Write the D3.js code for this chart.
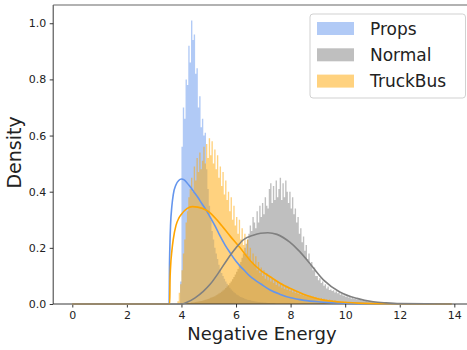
<!DOCTYPE html>
<html>
<head>
<meta charset="utf-8">
<script src="https://cdn.jsdelivr.net/npm/d3@7"></script>
<style>
  body { margin: 0; background: #fff; }
  text { font-family: "DejaVu Sans", sans-serif; }
</style>
</head>
<body>
<script>
// histogram bins: start value, bin width, density per bin
const binWidth = 0.05;

const propsStart = 3.95;
const propsDensity = [
  0.08, 0.56, 0.70, 0.66, 0.80, 0.78, 0.92, 0.86, 1.01, 0.94,
  0.96, 0.82, 0.84, 0.70, 0.74, 0.63, 0.66, 0.60, 0.61, 0.48,
  0.41, 0.35, 0.30, 0.26, 0.23, 0.20, 0.18, 0.16, 0.14, 0.125,
  0.11, 0.10, 0.09, 0.08, 0.072, 0.065, 0.058, 0.052, 0.047, 0.042,
  0.038, 0.034, 0.031, 0.028, 0.025, 0.023, 0.021, 0.019, 0.017, 0.015,
  0.014, 0.013, 0.012, 0.011, 0.010, 0.009, 0.008, 0.0075, 0.007, 0.0065,
  0.006, 0.0055, 0.005, 0.0045, 0.004, 0.0035, 0.003, 0.003, 0.0025, 0.002,
];

const normalStart = 3.95;
const normalDensity = [
  0.001, 0.001, 0.002, 0.002, 0.003, 0.003, 0.004, 0.004, 0.005, 0.005,
  0.006, 0.007, 0.008, 0.009, 0.010, 0.011, 0.012, 0.013, 0.015, 0.016,
  0.018, 0.020, 0.022, 0.024, 0.026, 0.028, 0.031, 0.034, 0.037, 0.040,
  0.044, 0.048, 0.052, 0.057, 0.062, 0.068, 0.074, 0.080, 0.088, 0.096,
  0.105, 0.115, 0.125, 0.140, 0.150, 0.165, 0.180, 0.200, 0.215, 0.230,
  0.250, 0.280, 0.260, 0.310, 0.290, 0.270, 0.330, 0.290, 0.350, 0.310,
  0.360, 0.320, 0.380, 0.350, 0.340, 0.410, 0.430, 0.360, 0.420, 0.370,
  0.440, 0.380, 0.410, 0.450, 0.370, 0.430, 0.380, 0.440, 0.400, 0.360,
  0.400, 0.340, 0.380, 0.320, 0.340, 0.290, 0.310, 0.250, 0.270, 0.220,
  0.240, 0.190, 0.210, 0.160, 0.180, 0.140, 0.150, 0.120, 0.130, 0.100,
  0.100, 0.085, 0.092, 0.075, 0.080, 0.065, 0.070, 0.055, 0.062, 0.050,
  0.052, 0.046, 0.049, 0.041, 0.045, 0.038, 0.040, 0.033, 0.036, 0.030,
  0.030, 0.026, 0.028, 0.023, 0.025, 0.020, 0.022, 0.018, 0.019, 0.016,
  0.016, 0.014, 0.015, 0.012, 0.013, 0.010, 0.011, 0.009, 0.010, 0.008,
  0.008, 0.008, 0.007, 0.007, 0.006, 0.006, 0.005, 0.005, 0.005, 0.004,
  0.004, 0.004, 0.003, 0.003, 0.003, 0.003, 0.002, 0.002, 0.002, 0.002,
];

const truckStart = 3.85;
const truckDensity = [
  0.01, 0.04, 0.07, 0.12, 0.18, 0.23, 0.29, 0.33, 0.38, 0.41,
  0.45, 0.40, 0.49, 0.44, 0.52, 0.47, 0.54, 0.48, 0.51, 0.56,
  0.50, 0.57, 0.52, 0.59, 0.53, 0.58, 0.50, 0.55, 0.48, 0.53,
  0.45, 0.49, 0.42, 0.47, 0.39, 0.44, 0.37, 0.40, 0.33, 0.38,
  0.30, 0.35, 0.28, 0.31, 0.25, 0.30, 0.23, 0.27, 0.21, 0.25,
  0.18, 0.23, 0.17, 0.20, 0.15, 0.18, 0.14, 0.17, 0.12, 0.15,
  0.11, 0.13, 0.10, 0.12, 0.09, 0.11, 0.085, 0.10, 0.08, 0.09,
  0.075, 0.085, 0.068, 0.079, 0.062, 0.073, 0.058, 0.067, 0.053, 0.061,
  0.050, 0.057, 0.046, 0.052, 0.042, 0.048, 0.039, 0.044, 0.036, 0.041,
  0.033, 0.038, 0.030, 0.034, 0.028, 0.032, 0.026, 0.029, 0.024, 0.027,
  0.022, 0.025, 0.020, 0.022, 0.018, 0.021, 0.017, 0.019, 0.015, 0.017,
  0.014, 0.016, 0.013, 0.014, 0.011, 0.013, 0.010, 0.011, 0.009, 0.010,
  0.008, 0.009, 0.007, 0.008, 0.006, 0.007, 0.005, 0.006, 0.004, 0.004,
];

// fitted density curves
const propsCurveX = [0, 3.54, 3.55, 3.56, 3.58, 3.6, 3.65, 3.7, 3.8, 3.9, 4.0, 4.1, 4.2, 4.3, 4.45, 4.6, 4.75, 4.9, 5.05, 5.25, 5.4, 5.6, 5.8, 6.0, 6.15, 6.3, 6.5, 6.7, 6.9, 7.25, 7.6, 8.0, 8.5, 9.0, 9.5, 10, 11, 12, 13.9];
const propsCurveY = [0, 0, 0, 0.12, 0.22, 0.28, 0.35, 0.39, 0.425, 0.44, 0.445, 0.442, 0.432, 0.42, 0.40, 0.38, 0.357, 0.335, 0.31, 0.275, 0.245, 0.21, 0.18, 0.152, 0.135, 0.12, 0.1, 0.085, 0.072, 0.05, 0.035, 0.022, 0.013, 0.008, 0.005, 0.003, 0.001, 0.0003, 0];

const truckCurveX = [0, 3.56, 3.57, 3.58, 3.6, 3.65, 3.7, 3.8, 3.9, 4.0, 4.2, 4.4, 4.6, 4.9, 5.05, 5.4, 5.8, 6.15, 6.5, 6.9, 7.25, 7.6, 8.0, 8.6, 9.1, 9.8, 10.5, 11.5, 13.9];
const truckCurveY = [0, 0, 0, 0.08, 0.13, 0.19, 0.23, 0.28, 0.305, 0.32, 0.34, 0.347, 0.345, 0.335, 0.325, 0.288, 0.24, 0.20, 0.157, 0.12, 0.097, 0.075, 0.055, 0.03, 0.016, 0.007, 0.003, 0.001, 0];

const normalCurveX = [0, 4.0, 4.2, 4.5, 4.8, 5.05, 5.35, 5.67, 6.0, 6.26, 6.63, 6.9, 7.17, 7.5, 7.97, 8.3, 8.6, 9.2, 9.8, 10.43, 11.03, 11.5, 12.0, 13.9];
const normalCurveY = [0, 0, 0.006, 0.022, 0.045, 0.07, 0.11, 0.157, 0.2, 0.228, 0.245, 0.252, 0.254, 0.248, 0.22, 0.19, 0.157, 0.086, 0.043, 0.02, 0.008, 0.004, 0.0015, 0];

const labels = ["Props", "Normal", "TruckBus"];
const colors = ["#6495ed", "#808080", "#ffa500"];
const xTicks = [0, 2, 4, 6, 8, 10, 12, 14];
const yTicks = [0.0, 0.2, 0.4, 0.6, 0.8, 1.0];

const width = 467;
const height = 350;
const plot = { left: 53.2, top: 5, right: 470.7, bottom: 304 };

const svg = d3
  .select("body")
  .append("svg")
  .attr("width", width)
  .attr("height", height);

const xScale = d3.scaleLinear().domain([-0.7, 14.6]).range([plot.left, plot.right]);
const yScale = d3.scaleLinear().domain([0, 1.065]).range([plot.bottom, plot.top]);

// turn bins into step points so each histogram is one filled shape
const toSteps = (start, values) => {
  const pts = values.map((v, i) => ({ x: start + i * binWidth, y: v }));
  pts.push({ x: start + values.length * binWidth, y: 0 });
  return pts;
};

const area = d3
  .area()
  .x((d) => xScale(d.x))
  .y0(yScale(0))
  .y1((d) => yScale(d.y))
  .curve(d3.curveStepAfter);

const hists = [
  toSteps(propsStart, propsDensity),
  toSteps(normalStart, normalDensity),
  toSteps(truckStart, truckDensity),
];

hists.forEach((pts, i) => {
  svg
    .append("path")
    .datum(pts)
    .attr("fill", colors[i])
    .attr("fill-opacity", 0.5)
    .attr("d", area);
});

// spines (left + top, right one is outside the window)
svg
  .append("line")
  .attr("x1", plot.left).attr("x2", plot.left)
  .attr("y1", plot.top).attr("y2", plot.bottom)
  .attr("stroke", "#222").attr("stroke-width", 0.9);
svg
  .append("line")
  .attr("x1", plot.left).attr("x2", width)
  .attr("y1", plot.top).attr("y2", plot.top)
  .attr("stroke", "#666").attr("stroke-width", 1.2);
svg
  .append("line")
  .attr("x1", plot.left).attr("x2", width)
  .attr("y1", plot.bottom).attr("y2", plot.bottom)
  .attr("stroke", "#222").attr("stroke-width", 0.9);

// axes
const xAxis = svg
  .append("g")
  .attr("transform", `translate(0,${plot.bottom})`)
  .call(d3.axisBottom(xScale).tickValues(xTicks).tickSize(3.5).tickPadding(3.5).tickFormat(d3.format("d")));
const yAxis = svg
  .append("g")
  .attr("transform", `translate(${plot.left},0)`)
  .call(d3.axisLeft(yScale).tickValues(yTicks).tickSize(3.5).tickPadding(3.5).tickFormat(d3.format(".1f")));

[xAxis, yAxis].forEach((g) => {
  g.select(".domain").remove();
  g.selectAll("text").attr("font-size", 11).attr("fill", "#222").style("font-family", "DejaVu Sans");
  g.selectAll("line").attr("stroke", "#222").attr("stroke-width", 0.9);
});

// fitted curves
const line = d3
  .line()
  .x((d) => xScale(d[0]))
  .y((d) => yScale(d[1]))
  .curve(d3.curveMonotoneX);

const curves = [
  { xs: propsCurveX, ys: propsCurveY, color: colors[0] },
  { xs: truckCurveX, ys: truckCurveY, color: colors[2] },
  { xs: normalCurveX, ys: normalCurveY, color: colors[1] },
];

curves.forEach((c) => {
  svg
    .append("path")
    .datum(d3.zip(c.xs, c.ys))
    .attr("fill", "none")
    .attr("stroke", c.color)
    .attr("stroke-width", 1.6)
    .attr("d", line);
});

// axis labels
svg
  .append("text")
  .attr("x", (plot.left + plot.right) / 2)
  .attr("y", 340)
  .attr("text-anchor", "middle")
  .attr("font-size", 18)
  .attr("fill", "#222")
  .text("Negative Energy");

svg
  .append("text")
  .attr("transform", "translate(21,152.5) rotate(-90)")
  .attr("text-anchor", "middle")
  .attr("font-size", 19)
  .attr("fill", "#222")
  .text("Density");

// legend
const legend = svg.append("g").attr("transform", "translate(310,14)");
legend
  .append("rect")
  .attr("width", 155.5)
  .attr("height", 84)
  .attr("rx", 3)
  .attr("fill", "#fff")
  .attr("fill-opacity", 0.8)
  .attr("stroke", "#ccc")
  .attr("stroke-width", 0.9);

labels.forEach((label, i) => {
  const cy = 14.5 + i * 26.3;
  legend
    .append("rect")
    .attr("x", 7)
    .attr("y", cy - 6.5)
    .attr("width", 37)
    .attr("height", 13)
    .attr("fill", colors[i])
    .attr("fill-opacity", 0.5);
  legend
    .append("text")
    .attr("x", 60)
    .attr("y", cy)
    .attr("dy", "0.36em")
    .attr("font-size", 17)
    .attr("fill", "#222")
    .text(label);
});
</script>
</body>
</html>
